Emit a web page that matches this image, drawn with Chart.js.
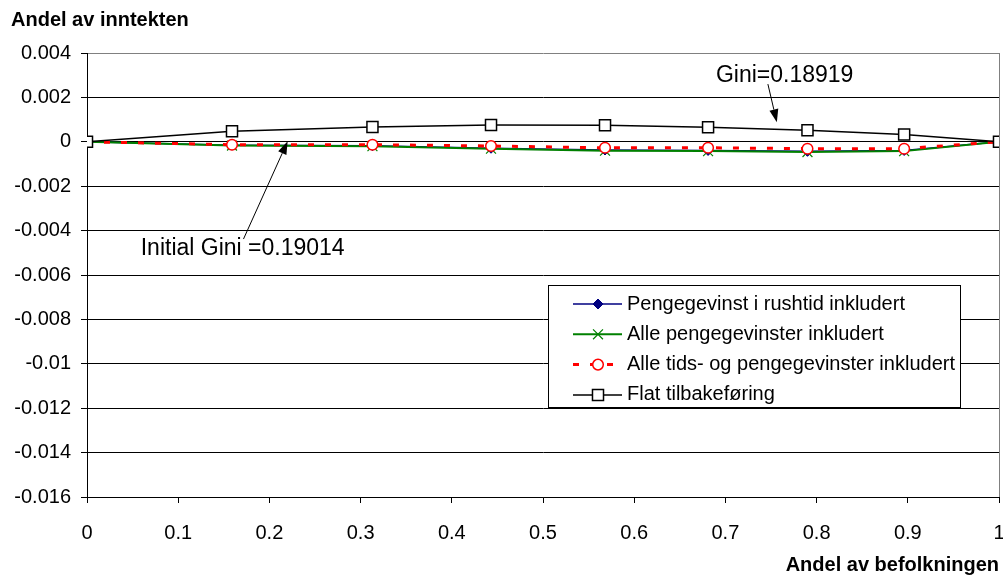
<!DOCTYPE html>
<html>
<head>
<meta charset="utf-8">
<script src="https://cdn.jsdelivr.net/npm/chart.js@4.4.1/dist/chart.umd.min.js"></script>
<style>
  html, body { margin: 0; padding: 0; background: #fff; }
  #wrap { width: 1003px; height: 577px; position: relative; }
</style>
</head>
<body>
<div id="wrap"><canvas id="giniChart" width="1003" height="577"></canvas></div>
<script>
// Andel av befolkningen (x) and change in income share per series (y)
const populationShare = [0, 0.159, 0.313, 0.443, 0.568, 0.681, 0.790, 0.896, 1];
const rushHourGain = [0, -0.00015, -0.00018, -0.00029, -0.00037, -0.00039, -0.00043, -0.00039, 0];
const allMoneyGains = [0, -0.00017, -0.00020, -0.00031, -0.00040, -0.00042, -0.00046, -0.00042, 0];
const allTimeAndMoneyGains = [0, -0.00013, -0.00013, -0.00019, -0.00027, -0.00027, -0.00031, -0.00031, 0];
const flatRefund = [0, 0.00048, 0.00067, 0.00076, 0.00075, 0.00066, 0.00052, 0.00033, 0];

const seriesNames = [
  'Pengegevinst i rushtid inkludert',
  'Alle pengegevinster inkludert',
  'Alle tids- og pengegevinster inkludert',
  'Flat tilbakeføring'
];

const xTickValues = [0, 0.1, 0.2, 0.3, 0.4, 0.5, 0.6, 0.7, 0.8, 0.9, 1];
const yTickValues = [0.004, 0.002, 0, -0.002, -0.004, -0.006, -0.008, -0.01, -0.012, -0.014, -0.016];

const xTitle = 'Andel av befolkningen';
const yTitle = 'Andel av inntekten';

// text label, label centre, arrow tail and arrow tip, all in data units
const giniNotes = [
  { text: 'Gini=0.18919', at: [0.765, 0.0030], from: [0.7466, 0.0026], to: [0.7564, 0.00088] },
  { text: 'Initial Gini =0.19014', at: [0.1707, -0.00482], from: [0.1716, -0.00438], to: [0.2200, 0.00002] }
];

const FONT = 'Arial, "Liberation Sans", sans-serif';
Chart.defaults.font.family = FONT;
Chart.defaults.font.size = 20;
Chart.defaults.color = '#000';

function toPoints(ys) {
  return ys.map((v, i) => ({ x: populationShare[i], y: v }));
}

// legend box, arrows, notes and the y title
const chartDecor = {
  id: 'chartDecor',
  afterDatasetsDraw(chart) {
    const { ctx, scales: { x, y } } = chart;
    ctx.save();

    giniNotes.forEach(n => {
      const x0 = x.getPixelForValue(n.from[0]), y0 = y.getPixelForValue(n.from[1]);
      const x1 = x.getPixelForValue(n.to[0]), y1 = y.getPixelForValue(n.to[1]);
      const ang = Math.atan2(y1 - y0, x1 - x0);
      const head = 13, half = 4.5;
      const bx = x1 - head * Math.cos(ang), by = y1 - head * Math.sin(ang);
      ctx.strokeStyle = '#000';
      ctx.fillStyle = '#000';
      ctx.lineWidth = 1;
      ctx.beginPath();
      ctx.moveTo(x0, y0);
      ctx.lineTo(bx, by);
      ctx.stroke();
      ctx.beginPath();
      ctx.moveTo(x1, y1);
      ctx.lineTo(bx + half * Math.sin(ang), by - half * Math.cos(ang));
      ctx.lineTo(bx - half * Math.sin(ang), by + half * Math.cos(ang));
      ctx.closePath();
      ctx.fill();

      ctx.font = '23px ' + FONT;
      ctx.textAlign = 'center';
      ctx.textBaseline = 'middle';
      ctx.fillText(n.text, x.getPixelForValue(n.at[0]), y.getPixelForValue(n.at[1]));
    });

    // legend
    const box = { left: 548, top: 285, right: 960, bottom: 407 };
    ctx.fillStyle = '#fff';
    ctx.fillRect(box.left, box.top, box.right - box.left, box.bottom - box.top);
    ctx.strokeStyle = '#000';
    ctx.lineWidth = 1;
    ctx.strokeRect(box.left + 0.5, box.top + 0.5, box.right - box.left, box.bottom - box.top);

    chart.data.datasets.forEach((ds, i) => {
      const yy = 304 + i * 30.3;
      ctx.save();
      ctx.strokeStyle = ds.borderColor;
      ctx.lineWidth = ds.borderWidth;
      ctx.setLineDash(ds.borderDash || []);
      ctx.beginPath();
      ctx.moveTo(573, yy);
      ctx.lineTo(622, yy);
      ctx.stroke();
      ctx.setLineDash([]);
      ctx.fillStyle = ds.pointBackgroundColor;
      ctx.strokeStyle = ds.pointBorderColor;
      ctx.lineWidth = ds.pointBorderWidth;
      Chart.helpers.drawPoint(ctx, {
        pointStyle: ds.pointStyle,
        radius: ds.pointRadius,
        borderWidth: ds.pointBorderWidth,
        rotation: 0
      }, 598, yy);
      ctx.restore();

      ctx.fillStyle = '#000';
      ctx.font = '20px ' + FONT;
      ctx.textAlign = 'left';
      ctx.textBaseline = 'middle';
      ctx.fillText(ds.label, 627, yy);
    });

    ctx.font = 'bold 20px ' + FONT;
    ctx.textAlign = 'left';
    ctx.textBaseline = 'middle';
    ctx.fillStyle = '#000';
    ctx.fillText(yTitle, 11, 20);

    ctx.restore();
  }
};

const ctx = document.getElementById('giniChart').getContext('2d');
new Chart(ctx, {
  type: 'line',
  data: {
    datasets: [
      {
        label: seriesNames[0],
        data: toPoints(rushHourGain),
        order: 3,
        borderColor: '#000080',
        borderWidth: 1.5,
        pointStyle: 'rectRot',
        pointRadius: 5,
        pointBackgroundColor: '#000080',
        pointBorderColor: '#000080',
        pointBorderWidth: 1
      },
      {
        label: seriesNames[1],
        data: toPoints(allMoneyGains),
        order: 2,
        borderColor: '#008000',
        borderWidth: 2,
        pointStyle: 'crossRot',
        pointRadius: 7,
        pointBackgroundColor: '#008000',
        pointBorderColor: '#008000',
        pointBorderWidth: 1.2
      },
      {
        label: seriesNames[2],
        data: toPoints(allTimeAndMoneyGains),
        order: 1,
        borderColor: '#ff0000',
        borderWidth: 3,
        borderDash: [6, 11],
        pointStyle: 'circle',
        pointRadius: 5.3,
        pointBackgroundColor: '#fff',
        pointBorderColor: '#ff0000',
        pointBorderWidth: 1.5
      },
      {
        label: seriesNames[3],
        data: toPoints(flatRefund),
        order: 0,
        borderColor: '#000',
        borderWidth: 1.5,
        pointStyle: 'rect',
        pointRadius: 7.8,
        pointBackgroundColor: '#fff',
        pointBorderColor: '#000',
        pointBorderWidth: 1.5
      }
    ]
  },
  options: {
    responsive: false,
    animation: false,
    events: [],
    layout: { autoPadding: false, padding: { top: 53, right: 4, bottom: 0, left: 0 } },
    elements: { line: { tension: 0 } },
    plugins: {
      legend: { display: false },
      tooltip: { enabled: false }
    },
    scales: {
      x: {
        type: 'linear',
        min: 0,
        max: 1,
        afterBuildTicks: s => { s.ticks = xTickValues.map(v => ({ value: v })); },
        afterFit: s => {
          s.height = 80;
          s.paddingLeft = 0;
          s.paddingRight = 0;
        },
        ticks: {
          padding: 18,
          maxRotation: 0,
          autoSkip: false,
          callback: v => String(+v.toFixed(1))
        },
        grid: {
          drawOnChartArea: true,
          color: c => (c.tick && c.tick.value === 1 ? '#808080' : 'rgba(0,0,0,0)'),
          tickColor: '#000',
          tickLength: 6
        },
        border: { color: '#000', width: 1 },
        title: {
          display: true,
          text: xTitle,
          align: 'end',
          font: { weight: 'bold', size: 20 },
          padding: { top: 0, bottom: 0 }
        }
      },
      y: {
        type: 'linear',
        min: -0.016,
        max: 0.004,
        afterBuildTicks: s => { s.ticks = yTickValues.map(v => ({ value: v })); },
        afterFit: s => { s.width = 87; },
        ticks: {
          padding: 10,
          autoSkip: false,
          callback: v => String(+v.toFixed(3))
        },
        grid: {
          color: c => (c.tick && c.tick.value > 0.0039 ? '#808080' : '#000'),
          tickColor: '#000',
          tickLength: 6
        },
        border: { color: '#000', width: 1 }
      }
    }
  },
  plugins: [chartDecor]
});
</script>
</body>
</html>
